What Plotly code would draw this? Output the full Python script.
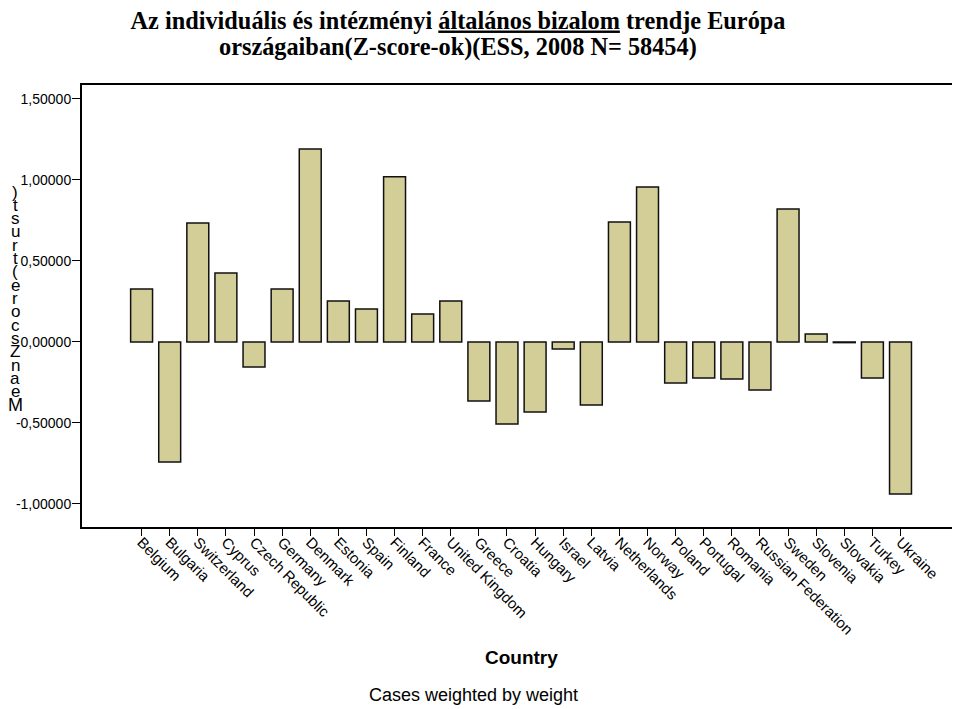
import plotly.graph_objects as go

countries = ["Belgium", "Bulgaria", "Switzerland", "Cyprus", "Czech Republic", "Germany",
             "Denmark", "Estonia", "Spain", "Finland", "France", "United Kingdom", "Greece",
             "Croatia", "Hungary", "Israel", "Latvia", "Netherlands", "Norway", "Poland",
             "Portugal", "Romania", "Russian Federation", "Sweden", "Slovenia", "Slovakia",
             "Turkey", "Ukraine"]
mean_zscore_trust = [0.327, -0.741, 0.735, 0.426, -0.154, 0.327,
                     1.191, 0.253, 0.204, 1.019, 0.173, 0.253, -0.364,
                     -0.506, -0.432, -0.043, -0.389, 0.741, 0.957, -0.253,
                     -0.222, -0.228, -0.296, 0.821, 0.049, -0.004,
                     -0.222, -0.938]
y_tick_vals = [-1.0, -0.5, 0.0, 0.5, 1.0, 1.5]
y_tick_text = ["-1,00000", "-0,50000", "0,00000", "0,50000", "1,00000", "1,50000"]
y_title = "Mean Zscore(trust)"
title_line1 = "Az individuális és intézményi <u>általános bizalom</u> trendje Európa"
title_line2 = "országaiban(Z-score-ok)(ESS, 2008 N= 58454)"

# page has an 8px body margin; work in reference pixels and shift
OFF = 8
FIG_W, FIG_H = 952, 701
L, T, W, H = 82 - OFF, 85 - OFF, 875, 442

def px_x(p):
    return (p - OFF - L) / W

def px_y(p):
    return (T + H - (p - OFF)) / H

title_font = dict(family="Liberation Serif, Times New Roman", size=24.3, color="black")

fig = go.Figure()
fig.add_trace(go.Bar(
    x=list(range(len(countries))),
    y=mean_zscore_trust,
    width=0.78,
    marker=dict(color="#d3ce98", line=dict(color="#111111", width=1.5)),
    hoverinfo="y",
))

annotations = []
# second title line
annotations.append(dict(
    text="<b>" + title_line2 + "</b>", x=px_x(458), y=px_y(47), xref="paper", yref="paper",
    showarrow=False, xanchor="center", yanchor="middle", font=title_font,
))
# vertical stacked y-axis title (letters upright, read bottom to top)
letters = list(reversed(y_title.replace(" ", "")))
top_px, bot_px = 192, 405
step = (bot_px - top_px) / (len(letters) - 1)
for i, ch in enumerate(letters):
    annotations.append(dict(
        text=ch, x=px_x(15), y=px_y(top_px + i * step), xref="paper", yref="paper",
        showarrow=False, xanchor="center", yanchor="middle",
        font=dict(family="Liberation Sans, Arial", size=18 if ch == "M" else 17, color="black"),
    ))

annotations.append(dict(
    text="<b>Country</b>", x=px_x(521), y=px_y(657), xref="paper", yref="paper",
    showarrow=False, xanchor="center", yanchor="middle",
    font=dict(family="Liberation Sans, Arial", size=19, color="black"),
))
annotations.append(dict(
    text="Cases weighted by weight", x=px_x(473), y=px_y(695), xref="paper", yref="paper",
    showarrow=False, xanchor="center", yanchor="middle",
    font=dict(family="Liberation Sans, Arial", size=18, color="black"),
))

fig.update_layout(
    width=FIG_W, height=FIG_H,
    margin=dict(l=L, r=FIG_W - L - W, t=T, b=FIG_H - T - H, autoexpand=False),
    paper_bgcolor="white", plot_bgcolor="white",
    showlegend=False,
    title=dict(
        text="<b>" + title_line1 + "</b>",
        x=(458 - OFF) / FIG_W, xanchor="center", y=1 - (20 - OFF) / FIG_H, yanchor="middle",
        font=title_font,
    ),
    xaxis=dict(
        range=[-2.12, 29.01],
        tickmode="array", tickvals=list(range(len(countries))), ticktext=countries,
        tickangle=45, ticks="outside", ticklen=7, tickcolor="black",
        ticklabelstandoff=-8,
        tickfont=dict(family="Liberation Sans, Arial", size=15, color="black"),
        showline=True, linecolor="black", linewidth=1.5, mirror=True,
        showgrid=False, zeroline=False, fixedrange=True,
    ),
    yaxis=dict(
        range=[-1.142, 1.586],
        tickmode="array", tickvals=y_tick_vals, ticktext=y_tick_text,
        ticks="outside", ticklen=8, tickcolor="black",
        ticklabelstandoff=-2,
        tickfont=dict(family="Liberation Sans, Arial", size=14, color="black"),
        showline=True, linecolor="black", linewidth=2, mirror=True,
        showgrid=False, zeroline=False, fixedrange=True,
    ),
    annotations=annotations,
)

fig.write_html("out.html")
